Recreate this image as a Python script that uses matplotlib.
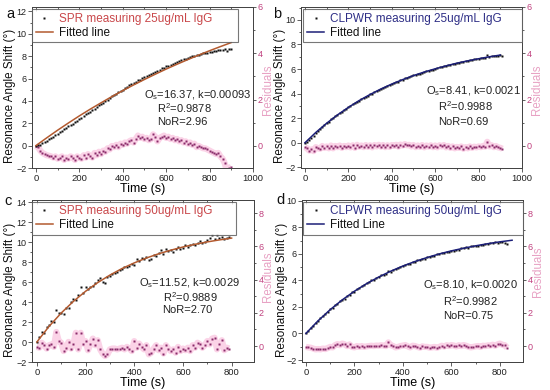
import numpy as np
import matplotlib
matplotlib.use("Agg")
import matplotlib.pyplot as plt
from matplotlib.lines import Line2D
from matplotlib.ticker import MultipleLocator

plt.rcParams['font.family'] = ['Liberation Sans', 'DejaVu Sans']
plt.rcParams['mathtext.fontset'] = 'custom'
plt.rcParams['mathtext.rm'] = 'Liberation Sans'
plt.rcParams['mathtext.it'] = 'Liberation Sans:italic'

# ---------------- data ----------------
# Panel a: SPR 25 ug/mL
t_a = np.arange(0, 910, 10)
shift_a = [0.00, 0.05, 0.10, 0.22, 0.35, 0.45, 0.55, 0.70, 0.78, 0.95,
           1.05, 1.22, 1.30, 1.48, 1.55, 1.72, 1.85, 1.95, 2.12, 2.20,
           2.38, 2.50, 2.62, 2.80, 2.88, 3.05, 3.15, 3.32, 3.42, 3.60,
           3.70, 3.85, 3.98, 4.10, 4.25, 4.40, 4.52, 4.62, 4.78, 4.90,
           5.02, 5.15, 5.25, 5.38, 5.50, 5.60, 5.72, 5.85, 5.90, 6.05,
           6.12, 6.25, 6.30, 6.45, 6.52, 6.60, 6.72, 6.78, 6.90, 6.95,
           7.08, 7.12, 7.25, 7.30, 7.42, 7.48, 7.58, 7.62, 7.72, 7.78,
           7.88, 7.92, 8.00, 8.05, 8.10, 8.15, 8.20, 8.25, 8.28, 8.32,
           8.35, 8.40, 8.42, 8.48, 8.52, 8.58, 8.55, 8.62, 8.45, 8.68, 8.60]
resid_a = [0.0, -0.05, -0.2, -0.3, -0.35, -0.4, -0.42, -0.45, -0.5, -0.45,
           -0.55, -0.5, -0.45, -0.6, -0.5, -0.55, -0.45, -0.5, -0.6, -0.45,
           -0.5, -0.55, -0.4, -0.5, -0.35, -0.45, -0.5, -0.3, -0.4, -0.25,
           -0.35, -0.2, -0.25, -0.1, -0.15, 0.0, -0.05, 0.05, -0.05, 0.1,
           0.05, 0.15, 0.1, 0.2, 0.25, 0.15, 0.3, 0.45, 0.35, 0.4,
           0.3, 0.35, 0.25, 0.3, 0.5, 0.4, 0.2, 0.35, 0.4, 0.45,
           0.35, 0.4, 0.3, 0.35, 0.25, 0.3, 0.2, 0.25, 0.15, 0.2,
           0.1, 0.15, 0.05, 0.1, -0.05, 0.0, -0.05, -0.1, -0.1, -0.15,
           -0.2, -0.25, -0.3, -0.35, -0.3, -0.45, -0.55, -0.75, -1.1, -0.95, -0.9]
tfit_a = np.arange(0, 950, 50)
fit_a = [0.00, 0.70, 1.38, 2.03, 2.66, 3.26, 3.83, 4.39, 4.92, 5.43,
         5.92, 6.39, 6.85, 7.28, 7.70, 8.10, 8.49, 8.86, 9.22]

# Panel b: CLPWR 25 ug/mL
t_b = np.arange(0, 920, 10)
shift_b = [-0.05, 0.10, 0.22, 0.38, 0.55, 0.80, 0.98, 1.12, 1.32, 1.42,
           1.60, 1.72, 1.90, 1.98, 2.15, 2.25, 2.42, 2.50, 2.66, 2.75,
           2.90, 2.98, 3.12, 3.20, 3.35, 3.42, 3.55, 3.62, 3.76, 3.82,
           3.95, 4.00, 4.14, 4.18, 4.31, 4.36, 4.48, 4.52, 4.64, 4.68,
           4.80, 4.85, 4.95, 4.98, 5.10, 5.12, 5.24, 5.26, 5.36, 5.40,
           5.48, 5.52, 5.60, 5.63, 5.72, 5.74, 5.83, 5.85, 5.93, 5.95,
           6.03, 6.05, 6.13, 6.15, 6.23, 6.24, 6.32, 6.33, 6.40, 6.42,
           6.49, 6.50, 6.57, 6.58, 6.64, 6.65, 6.72, 6.72, 6.79, 6.80,
           6.85, 6.86, 6.92, 6.93, 7.12, 7.00, 7.04, 7.05, 7.10, 7.10, 7.12, 7.10]
resid_b = [-0.05, -0.1, -0.2, -0.15, -0.22, -0.05, -0.1, -0.12, 0.0, -0.08,
           -0.02, -0.1, 0.02, -0.1, 0.0, -0.05, 0.02, -0.08, 0.0, -0.05,
           0.02, -0.06, 0.03, -0.08, 0.05, -0.03, 0.02, -0.05, 0.04, -0.04,
           0.03, -0.06, 0.04, -0.02, 0.05, -0.03, 0.04, -0.05, 0.03, -0.04,
           0.04, 0.0, 0.05, -0.03, 0.06, 0.02, 0.08, 0.03, 0.05, -0.02,
           0.04, -0.05, 0.02, -0.04, 0.04, -0.06, 0.02, -0.03, 0.03, -0.05,
           0.02, -0.06, 0.03, -0.02, 0.04, -0.06, 0.0, -0.08, -0.02, -0.1,
           -0.04, -0.08, -0.02, -0.12, -0.05, -0.1, -0.02, -0.08, -0.03, -0.06,
           -0.02, -0.05, 0.0, -0.03, 0.18, -0.02, 0.03, -0.05, 0.0, -0.06, -0.08, -0.12]
tfit_b = np.arange(0, 950, 50)
fit_b = [0.00, 0.84, 1.59, 2.27, 2.88, 3.44, 3.93, 4.38, 4.78, 5.14,
         5.47, 5.76, 6.02, 6.26, 6.48, 6.67, 6.84, 7.00, 7.14]

# Panel c: SPR 50 ug/mL
t_c = np.arange(0, 800, 10)
shift_c = [0.0, 0.55, 1.05, 0.95, 1.55, 1.75, 2.1, 2.05, 3.2, 2.9,
           2.95, 2.8, 3.45, 3.4, 4.0, 4.3, 4.2, 4.7, 5.5, 4.95,
           5.5, 5.3, 5.55, 5.6, 5.95, 6.2, 6.45, 6.05, 5.95, 6.5,
           6.6, 6.8, 6.9, 7.05, 7.2, 7.3, 7.5, 7.55, 7.6, 7.85,
           7.75, 8.3, 8.1, 8.4, 8.3, 8.5, 8.2, 8.35, 8.75, 8.6,
           8.9, 9.2, 8.85, 9.3, 9.1, 9.25, 9.0, 9.3, 9.55, 9.35,
           9.45, 9.7, 9.5, 9.75, 9.8, 9.7, 9.95, 10.1, 9.9, 10.05,
           10.25, 10.45, 10.7, 10.3, 10.75, 10.45, 10.5, 10.35, 10.4, 10.55]
resid_c = [-0.05, -0.1, 0.2, 0.05, -0.15, 0.05, 0.1, -0.05, 0.85, 0.3,
           0.2, -0.3, -0.1, 0.25, -0.15, 0.1, 0.8, -0.2, 0.8, 0.15,
           0.3, -0.25, 0.1, 0.45, 0.05, 0.35, -0.2, -0.45, -0.6, -0.5,
           -0.2, -0.15, -0.15, -0.2, -0.15, -0.1, -0.2, -0.05, -0.15, -0.3,
           0.3, -0.1, 0.15, -0.05, -0.2, 0.05, -0.5, -0.4, -0.15, 0.05,
           -0.25, -0.1, -0.45, 0.05, -0.15, -0.3, -0.2, -0.4, -0.05, -0.3,
           -0.15, -0.25, -0.1, -0.3, 0.05, -0.1, 0.2, 0.1, -0.1, 0.05,
           0.3, 0.1, 0.45, 0.5, -0.2, 0.1, 0.35, -0.25, -0.1, -0.15]
tfit_c = np.arange(0, 850, 50)
fit_c = [0.00, 1.56, 2.90, 4.06, 5.07, 5.94, 6.69, 7.35, 7.91, 8.40,
         8.82, 9.18, 9.50, 9.77, 10.01, 10.21, 10.39]

# Panel d: CLPWR 50 ug/mL
t_d = np.arange(0, 840, 10)
shift_d = [0.0, 0.15, 0.38, 0.55, 0.8, 0.92, 1.15, 1.28, 1.5, 1.6,
           1.82, 1.93, 2.14, 2.22, 2.45, 2.5, 2.6, 2.82, 2.9, 3.1,
           3.15, 3.33, 3.4, 3.55, 3.62, 3.78, 3.84, 3.99, 4.04, 4.19,
           4.23, 4.37, 4.4, 4.5, 4.68, 4.66, 4.8, 4.83, 4.95, 4.98,
           5.1, 5.13, 5.24, 5.26, 5.38, 5.4, 5.5, 5.52, 5.63, 5.64,
           5.74, 5.75, 5.85, 5.86, 5.95, 5.97, 6.05, 6.06, 6.15, 6.15,
           6.24, 6.24, 6.32, 6.32, 6.4, 6.4, 6.48, 6.47, 6.55, 6.55,
           6.62, 6.6, 6.69, 6.67, 6.75, 6.73, 6.8, 6.78, 6.86, 6.83,
           6.9, 6.88, 6.8, 6.74]
resid_d = [-0.05, -0.08, -0.1, -0.15, -0.2, -0.18, -0.2, -0.15, -0.18, -0.12,
           -0.05, -0.08, 0.05, 0.12, 0.05, 0.15, 0.1, 0.0, 0.1, -0.05,
           -0.08, 0.0, -0.05, 0.0, -0.05, -0.02, 0.0, 0.02, 0.0, 0.03,
           0.02, 0.05, 0.03, 0.0, 0.22, 0.05, 0.0, -0.08, -0.05, 0.0,
           0.03, 0.06, -0.02, -0.08, 0.02, 0.0, -0.05, -0.1, -0.02, -0.05,
           -0.05, -0.1, -0.08, -0.05, -0.1, -0.05, 0.02, -0.03, 0.05, 0.0,
           0.06, 0.03, -0.02, 0.05, 0.0, 0.06, 0.02, -0.04, -0.08, -0.05,
           -0.02, 0.0, -0.05, 0.02, 0.0, 0.04, 0.03, 0.08, 0.02, 0.1,
           0.15, 0.08, 0.05, -0.1]
tfit_d = np.arange(0, 900, 50)
fit_d = [0.00, 0.95, 1.79, 2.53, 3.18, 3.75, 4.25, 4.69, 5.08, 5.42,
         5.72, 5.99, 6.22, 6.42, 6.60, 6.76, 6.90, 7.02]

legend_a = "SPR measuring 25ug/mL IgG"
legend_b = "CLPWR measuring 25ug/mL IgG"
legend_c = "SPR measuring 50ug/mL IgG"
legend_d = "CLPWR measuring 50ug/mL IgG"
fit_label_ab = "Fitted line"
fit_label_cd = "Fitted Line"
stats_a = [r"O$_{\mathrm{s}}$=16.37, k=0.00093", r"R$^{2}$=0.9878", "NoR=2.96"]
stats_b = [r"O$_{\mathrm{s}}$=8.41, k=0.0021", r"R$^{2}$=0.9988", "NoR=0.69"]
stats_c = [r"O$_{\mathrm{s}}$=11.52, k=0.0029", r"R$^{2}$=0.9889", "NoR=2.70"]
stats_d = [r"O$_{\mathrm{s}}$=8.10, k=0.0020", r"R$^{2}$=0.9982", "NoR=0.75"]
ylabel_txt = "Resonance Angle Shift (\u00b0)"
rlabel_txt = "Residuals"

# ---------------- style ----------------
SPR_LINE = '#b35a2f'
SPR_TEXT = '#c9474a'
CLP_LINE = '#1c1f78'
CLP_TEXT = '#2e2e86'
RES_PT = '#8a2b6a'
RES_BAND = '#fbd3e7'
RES_TICK = '#c0407e'
RES_LABEL = '#e8a2c4'
SPINE = '#444444'

W, H = 550.0, 390.0
fig = plt.figure(figsize=(5.5, 3.9), dpi=100)


def px_axes(x0, x1, y0, y1):
    return fig.add_axes([x0 / W, 1 - y1 / H, (x1 - x0) / W, (y1 - y0) / H])


def ftext(px, py, s, **kw):
    return fig.text(px / W, 1 - py / H, s, **kw)


def panel(rect, t, y, r, tf, yf, line_c, leg_txt, leg_c, fit_lbl, stats, stat_pos,
          xlim, ylim, rylim, xmaj, rmaj, ymaj, leg_box, ylab_xy, res_xy, letter, letter_pos):
    ax = px_axes(*rect)
    ax2 = ax.twinx()
    ax.set_zorder(ax2.get_zorder() + 1)
    ax.patch.set_visible(False)

    # residuals on right axis
    ax2.plot(t, r, color=RES_BAND, lw=4.5, solid_capstyle='butt', zorder=1)
    ax2.plot(t, r, ls='none', marker='s', ms=1.7, color=RES_PT, mec='none', zorder=2)
    ax2.set_ylim(*rylim)
    ax2.yaxis.set_major_locator(MultipleLocator(rmaj))
    ax2.yaxis.set_minor_locator(MultipleLocator(rmaj / 2))
    ax2.tick_params(axis='y', which='both', direction='out', labelsize=6.5,
                    labelcolor=RES_TICK, color=SPINE, width=0.6, pad=1)
    ax2.tick_params(axis='y', which='major', length=2.5)
    ax2.tick_params(axis='y', which='minor', length=1.3)
    for s in ax2.spines.values():
        s.set_color(SPINE)
        s.set_linewidth(0.7)

    # data and fit
    ax.plot(t, y, ls='none', marker='s', ms=1.8, color='#111111', mec='none', zorder=3)
    ax.plot(tf, yf, color=line_c, lw=1.1, zorder=4)
    ax.set_xlim(*xlim)
    ax.set_ylim(*ylim)
    ax.xaxis.set_major_locator(MultipleLocator(xmaj))
    ax.xaxis.set_minor_locator(MultipleLocator(xmaj / 2))
    ax.yaxis.set_major_locator(MultipleLocator(ymaj))
    ax.yaxis.set_minor_locator(MultipleLocator(ymaj / 2))
    ax.tick_params(which='both', direction='out', labelsize=6.8, color=SPINE,
                   labelcolor='#222222', width=0.6, pad=1.2)
    ax.tick_params(axis='y', labelsize=6.5, pad=1)
    ax.tick_params(which='major', length=3)
    ax.tick_params(which='minor', length=1.5)
    ax.yaxis.set_major_formatter(matplotlib.ticker.FuncFormatter(
        lambda v, p: ("\u2212%d" % abs(v)) if v < 0 else "%d" % v))
    for s in ax.spines.values():
        s.set_color(SPINE)
        s.set_linewidth(0.7)

    top = ax.secondary_xaxis('top')
    top.xaxis.set_major_locator(MultipleLocator(xmaj))
    top.xaxis.set_minor_locator(MultipleLocator(xmaj / 2))
    top.tick_params(which='both', direction='in', labeltop=False, color=SPINE, width=0.6)
    top.tick_params(which='major', length=3)
    top.tick_params(which='minor', length=1.5)
    top.spines['top'].set_color(SPINE)
    top.spines['top'].set_linewidth(0.7)

    ax.set_xlabel("Time (s)", fontsize=9, labelpad=0)
    ftext(ylab_xy[0], ylab_xy[1], ylabel_txt, fontsize=8.4, rotation=90,
          ha='center', va='center', color='#111111')
    ftext(res_xy[0], res_xy[1], rlabel_txt, fontsize=8.3, rotation=90,
          ha='center', va='center', color=RES_LABEL)

    handles = [Line2D([], [], ls='none', marker='s', ms=2, color='#111111', mec='none'),
               Line2D([], [], color=line_c, lw=1.1)]
    leg = ax.legend(handles, [leg_txt, fit_lbl], loc='upper left', mode='expand',
                    bbox_to_anchor=leg_box, fontsize=8.5, frameon=True, fancybox=False,
                    borderpad=0.3, labelspacing=0.15, handlelength=1.5,
                    handletextpad=0.5, borderaxespad=0.0)
    leg.get_frame().set_edgecolor('#555555')
    leg.get_frame().set_linewidth(0.8)
    leg.get_texts()[0].set_color(leg_c)
    leg.get_texts()[1].set_color('#111111')

    for txt, (sx, sy) in zip(stats, stat_pos):
        ax.text(sx, sy, txt, transform=ax.transAxes, fontsize=8, ha='left',
                va='center', color='#222222')

    ftext(letter_pos[0], letter_pos[1], letter, fontsize=10.5,
          ha='left', va='center', color='#111111')
    return ax


panel((32, 253, 7, 168), t_a, shift_a, resid_a, tfit_a, fit_a, SPR_LINE, legend_a, SPR_TEXT,
      fit_label_ab, stats_a, [(0.507, 0.453), (0.566, 0.373), (0.566, 0.286)],
      (-18, 1000), (-2, 12.4), (-0.95, 6.0), 200, 2, 2,
      (0.0, 0.5, 0.93, 0.485), (10, 96), (268, 90), "a", (6, 14))

panel((301, 522, 7, 168), t_b, shift_b, resid_b, tfit_b, fit_b, CLP_LINE, legend_b, CLP_TEXT,
      fit_label_ab, stats_b, [(0.566, 0.478), (0.62, 0.385), (0.62, 0.286)],
      (-18, 1000), (-2.05, 11.05), (-0.95, 6.0), 200, 2, 2,
      (0.01, 0.5, 0.99, 0.485), (280.5, 96), (537, 90), "b", (273, 14))

panel((32, 254, 200, 362), t_c, shift_c, resid_c, tfit_c, fit_c, SPR_LINE, legend_c, SPR_TEXT,
      fit_label_cd, stats_c, [(0.48, 0.488), (0.588, 0.401), (0.588, 0.321)],
      (-20, 892), (-2, 14.2), (-0.96, 8.8), 200, 2, 2,
      (0.0, 0.5, 0.92, 0.488), (10, 290), (268.5, 277), "c", (4, 201))

panel((302, 523, 200, 362), t_d, shift_d, resid_d, tfit_d, fit_d, CLP_LINE, legend_d, CLP_TEXT,
      fit_label_cd, stats_d, [(0.548, 0.475), (0.638, 0.377), (0.638, 0.284)],
      (-16, 895), (-2.15, 10.05), (-0.96, 8.8), 200, 2, 2,
      (0.005, 0.5, 0.995, 0.488), (281.5, 290), (538, 272), "d", (276, 200))

fig.savefig("out.png", dpi=100)
